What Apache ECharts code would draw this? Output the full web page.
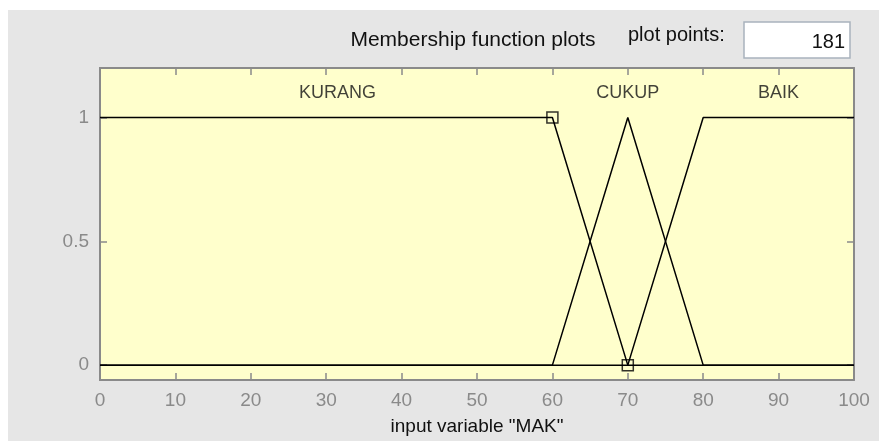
<!DOCTYPE html>
<html>
<head>
<meta charset="utf-8">
<script src="https://cdn.jsdelivr.net/npm/echarts@6/dist/echarts.min.js"></script>
<style>
    html, body { margin: 0; padding: 0; background: #fff; }
    #main { width: 879px; height: 441px; }
</style>
</head>
<body>
<div id="main"></div>
<script>
// membership functions of input variable "MAK"
var kurangX = [0, 60, 70, 100];
var kurangY = [1, 1, 0, 0];
var cukupX = [0, 60, 70, 80, 100];
var cukupY = [0, 0, 1, 0, 0];
var baikX = [0, 70, 80, 100];
var baikY = [0, 0, 1, 1];

// names drawn above each function
var mfNames = ['KURANG', 'CUKUP', 'BAIK'];
var mfLabelX = [31.5, 70, 90];
var mfLabelY = 1.1;

// selected function handles (KURANG)
var handleX = [60, 70];
var handleY = [1, 0];

var yTicks = [0, 0.5, 1];
var plotPoints = '181';

var zip = function (xs, ys) {
    return xs.map(function (x, i) {
        return [x, ys[i]];
    });
};

var font = '"Liberation Sans", Arial, sans-serif';
var tickGray = '#8a8a8a';

var myChart = echarts.init(document.getElementById('main'));

var mfLine = function (name, xs, ys) {
    return {
        name: name,
        type: 'line',
        data: zip(xs, ys),
        symbol: 'none',
        lineStyle: {color: '#000', width: 1.5},
        silent: true,
        z: 3
    };
};

var xAxisBase = function (pos) {
    return {
        type: 'value',
        min: 0,
        max: 100,
        interval: 10,
        position: pos,
        axisLine: {onZero: false, lineStyle: {color: tickGray, width: 2}},
        axisTick: {inside: true, length: 7, lineStyle: {color: tickGray, width: 1.5}},
        splitLine: {show: false}
    };
};

var yAxisBase = function (pos) {
    return {
        type: 'value',
        min: -0.06,
        max: 1.2,
        position: pos,
        axisLine: {show: true, onZero: false, lineStyle: {color: tickGray, width: 2}},
        axisTick: {show: true, inside: true, length: 7, customValues: yTicks, lineStyle: {color: tickGray, width: 1.5}},
        axisLabel: {show: false, customValues: yTicks},
        splitLine: {show: false}
    };
};

var xBottom = xAxisBase('bottom');
xBottom.name = 'input variable "MAK"';
xBottom.nameLocation = 'middle';
xBottom.nameGap = 37;
xBottom.nameTextStyle = {color: '#111', fontSize: 19, fontFamily: font};
xBottom.axisLabel = {color: '#8a8a8a', fontSize: 19, margin: 11, fontFamily: font};

var xTop = xAxisBase('top');
xTop.axisLabel = {show: false};

// left axis carries the labels, a twin left axis draws the inner ticks
var yLeft = yAxisBase('left');
yLeft.axisTick = {show: false};
yLeft.axisLabel = {color: '#8a8a8a', fontSize: 19, margin: 11, fontFamily: font, customValues: yTicks};

var yLeftTicks = yAxisBase('left');
var yRight = yAxisBase('right');

var option = {
    backgroundColor: '#fff',
    animation: false,
    textStyle: {fontFamily: font},
    graphic: [{
        type: 'rect',
        shape: {x: 8, y: 10, width: 871, height: 431},
        style: {fill: '#e6e6e6'},
        z: -10
    }, {
        type: 'text',
        x: 473, y: 40,
        style: {
            text: 'Membership function plots',
            font: '21px ' + font,
            fill: '#111',
            align: 'center',
            verticalAlign: 'middle'
        }
    }, {
        type: 'text',
        x: 628, y: 35,
        style: {
            text: 'plot points:',
            font: '20px ' + font,
            fill: '#111',
            align: 'left',
            verticalAlign: 'middle'
        }
    }, {
        type: 'rect',
        shape: {x: 744, y: 22, width: 106, height: 36},
        style: {fill: '#fff', stroke: '#a9b3bd', lineWidth: 1.5}
    }, {
        type: 'text',
        x: 845, y: 42,
        style: {
            text: plotPoints,
            font: '20px ' + font,
            fill: '#111',
            align: 'right',
            verticalAlign: 'middle'
        }
    }],
    grid: {
        left: 100,
        right: 25,
        top: 68,
        bottom: 60,
        show: true,
        backgroundColor: '#ffffcc',
        borderWidth: 0
    },
    xAxis: [xBottom, xTop],
    yAxis: [yLeft, yRight, yLeftTicks],
    series: [
        mfLine('KURANG', kurangX, kurangY),
        mfLine('CUKUP', cukupX, cukupY),
        mfLine('BAIK', baikX, baikY),
        {
            name: 'handles',
            type: 'scatter',
            data: zip(handleX, handleY),
            symbol: 'rect',
            symbolSize: 11,
            itemStyle: {color: 'rgba(0,0,0,0)', borderColor: '#000', borderWidth: 1.5},
            silent: true,
            z: 4
        },
        {
            name: 'names',
            type: 'scatter',
            data: mfNames.map(function (n, i) {
                return {name: n, value: [mfLabelX[i], mfLabelY]};
            }),
            symbolSize: 0,
            label: {
                show: true,
                position: 'inside',
                formatter: '{b}',
                color: '#111',
                fontSize: 18,
                fontFamily: font
            },
            silent: true,
            z: 5
        }
    ]
};
myChart.setOption(option);
</script>
</body>
</html>
